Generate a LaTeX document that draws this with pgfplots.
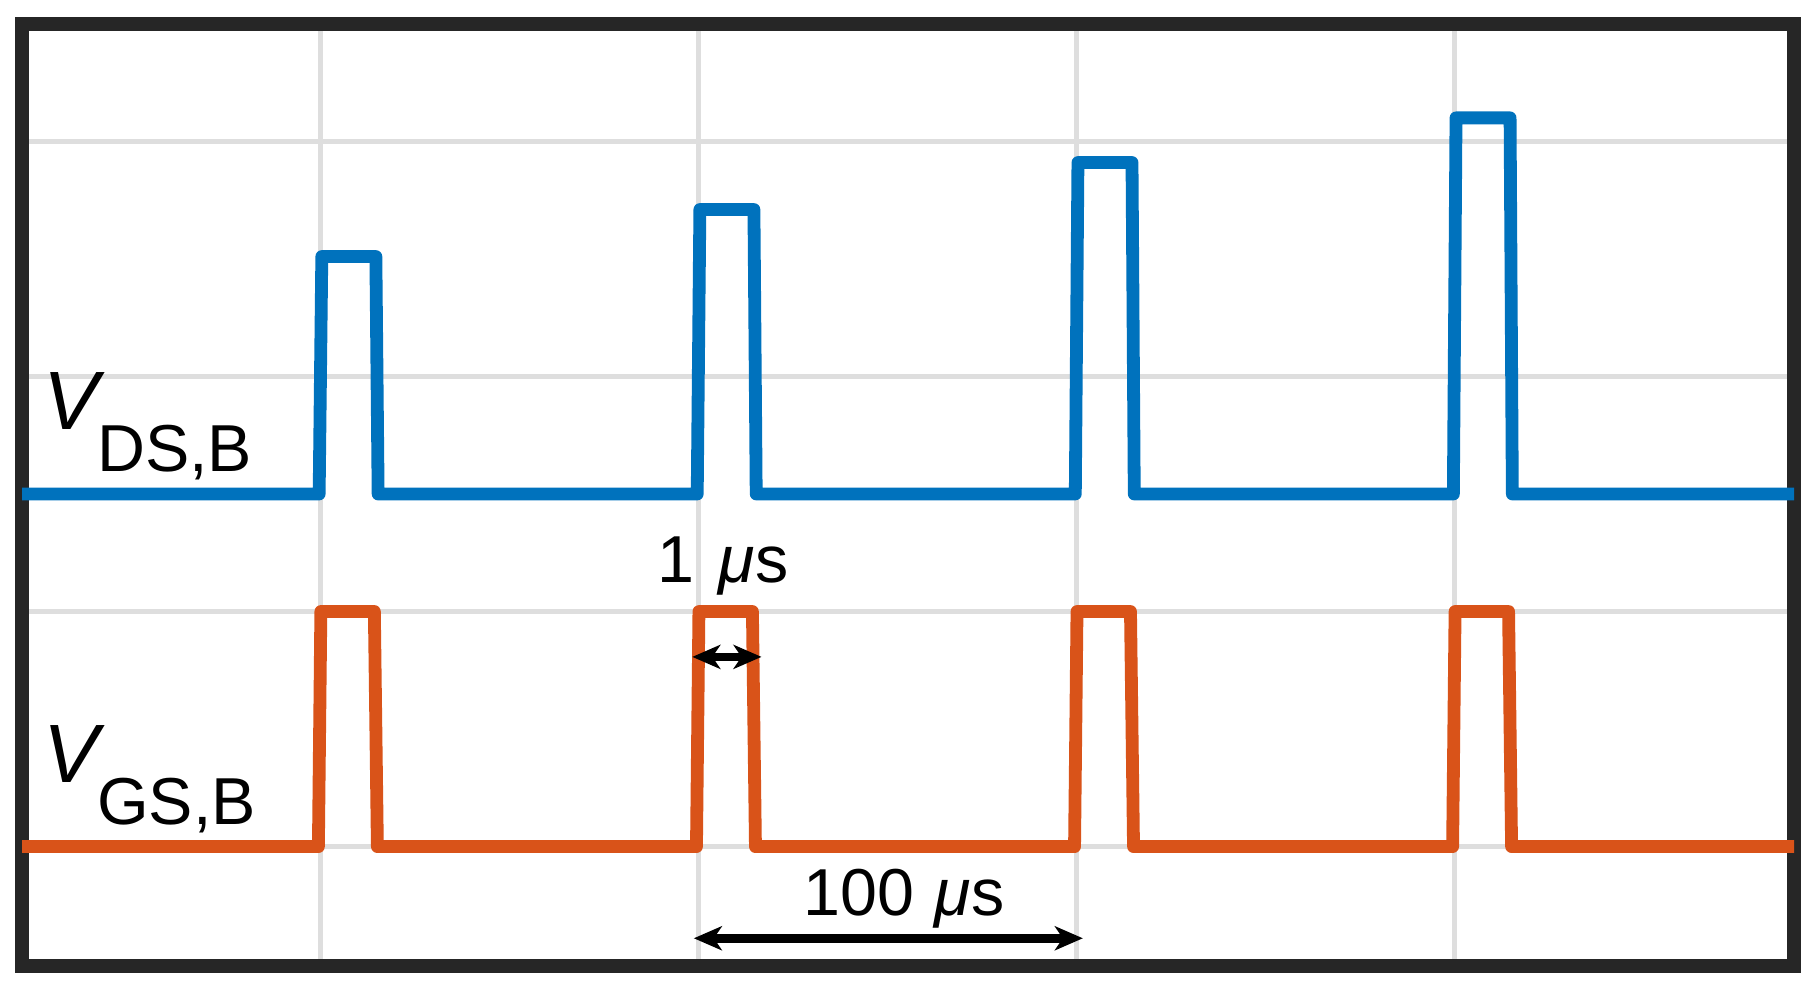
\documentclass[border=0pt]{standalone}
\usepackage{fontspec}
\setmainfont{Liberation Sans}
\usepackage{pgfplots}
\pgfplotsset{compat=1.18}
\usetikzlibrary{arrows.meta}
\definecolor{traceblue}{RGB}{0,114,189}
\definecolor{traceorange}{RGB}{217,83,25}
\definecolor{framegray}{RGB}{38,38,38}
\definecolor{gridgray}{RGB}{222,222,222}

\begin{document}
\begin{tikzpicture}
\path[use as bounding box] (-5.5pt,-5.5pt) rectangle (448.5pt,241.5pt);
\begin{axis}[
  at={(0pt,0pt)}, anchor=south west,
  scale only axis, width=443pt, height=235.6pt,
  xmin=-79, xmax=389.7, ymin=0.492, ymax=4.501,
  xtick={0,100,200,300}, ytick={1,2,3,4},
  xticklabels={}, yticklabels={},
  major tick length=0pt,
  grid=major,
  grid style={gridgray, line width=1.25pt},
  axis line style={framegray, line width=3.5pt, line join=miter},
  every axis plot/.append style={line width=3.2pt, line join=round, mark=none},
]
% V_GS,B
\addplot[traceorange] coordinates {
  (-80,1) (-0.6,1) (0.05,2) (14.2,2) (15,1)
  (99.4,1) (100.05,2) (114.2,2) (115,1)
  (199.4,1) (200.05,2) (214.2,2) (215,1)
  (299.4,1) (300.05,2) (314.2,2) (315,1) (400,1)
};
% V_DS,B
\addplot[traceblue] coordinates {
  (-80,2.5) (-0.4,2.5) (0.3,3.51) (14.6,3.51) (15.2,2.5)
  (99.6,2.5) (100.3,3.71) (114.6,3.71) (115.2,2.5)
  (199.6,2.5) (200.3,3.91) (214.6,3.91) (215.2,2.5)
  (299.6,2.5) (300.3,4.10) (314.6,4.10) (315.2,2.5) (400,2.5)
};

\node[anchor=base west, inner sep=0pt, font=\fontsize{20.7}{24}\selectfont]
  at (axis cs:-73.5,2.776) {\textit{V}\kern-2pt\raisebox{-10.5pt}{\fontsize{16.6}{20}\selectfont DS,B}};
\node[anchor=base west, inner sep=0pt, font=\fontsize{20.7}{24}\selectfont]
  at (axis cs:-73.5,1.271) {\textit{V}\kern-2pt\raisebox{-10.5pt}{\fontsize{16.6}{20}\selectfont GS,B}};

\node[anchor=base west, inner sep=0pt, font=\fontsize{16.6}{20}\selectfont]
  at (axis cs:89.0,2.122) {1\hspace{6pt}\textit{μ}s};
\node[anchor=base west, inner sep=0pt, font=\fontsize{16.6}{20}\selectfont]
  at (axis cs:127.6,0.709) {100\hspace{5pt}\textit{μ}s};

\draw[line width=2pt, {Stealth[length=7pt,width=6pt,inset=2pt]}-{Stealth[length=7pt,width=6pt,inset=2pt]}]
  (axis cs:98.3,1.807) -- (axis cs:116.6,1.807);
\draw[line width=2.2pt, {Stealth[length=7pt,width=6pt,inset=2pt]}-{Stealth[length=7pt,width=6pt,inset=2pt]}]
  (axis cs:98.7,0.610) -- (axis cs:201.6,0.610);
\end{axis}
\end{tikzpicture}
\end{document}
